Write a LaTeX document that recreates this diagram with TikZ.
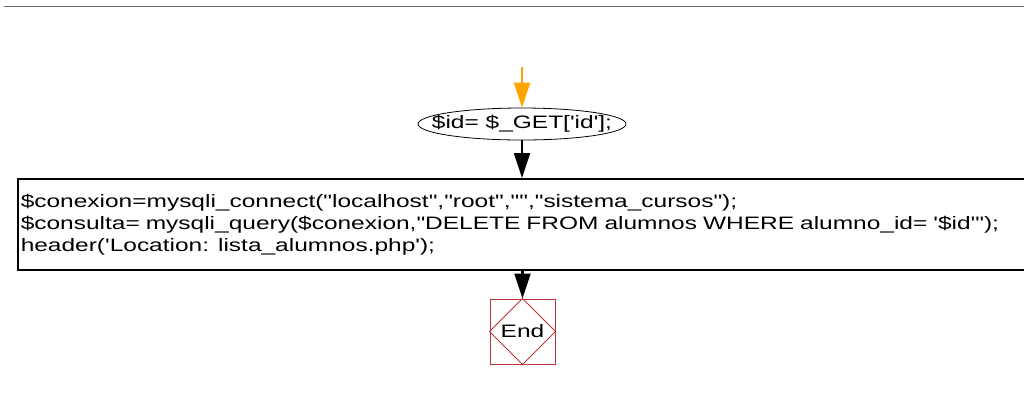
\documentclass[tikz,border=0pt]{standalone}
\usepackage{fontspec}
\usetikzlibrary{shapes.geometric,arrows.meta}
\newfontfamily\dfont{Liberation Sans}[FakeStretch=1.36]
\definecolor{arrorange}{RGB}{255,165,0}
\definecolor{endred}{RGB}{185,55,55}
\definecolor{rulegray}{RGB}{110,110,110}
\begin{document}
\begin{tikzpicture}[x=1pt,y=-1pt,
  every node/.style={font=\dfont\fontsize{18}{22}\selectfont},
  flowarrow/.style={line width=2.2pt,-{Triangle[width=16pt,length=25pt]}},
  procbox/.style={draw,line width=1.5pt,rectangle,anchor=north west,minimum width=1030pt,minimum height=91pt,text width=1024pt,align=left,inner xsep=3pt,inner ysep=0pt},
  startell/.style={draw,line width=0.8pt,ellipse,minimum width=208pt,minimum height=32pt,inner sep=0pt},
  endbox/.style={draw=endred,line width=1pt,rectangle,minimum width=65pt,minimum height=65pt,inner sep=0pt}]
\useasboundingbox (0,0) rectangle (1024,392);
\draw[rulegray,line width=1.6pt] (4,6.5) -- (1024,6.5);
\coordinate (start) at (522,67);
\node[startell] (id) at (522,124) {\makebox[0pt]{\$id= \$\_GET['id'];}};
\node[procbox] (box) at (17,178) {\$conexion=mysqli\_connect("localhost","root","","sistema\_cursos");\\
\$consulta= mysqli\_query(\$conexion,"DELETE FROM alumnos WHERE alumno\_id= '\$id'");\\
header('Location: lista\_alumnos.php');};
\node[endbox] (end) at (522.5,331.5) {End};
\draw[endred,line width=1pt] (end.north) -- (end.east) -- (end.south) -- (end.west) -- cycle;
\draw[flowarrow,arrorange] (start) -- (id.north);
\draw[flowarrow] (id.south) -- (id.south |- box.north);
\draw[flowarrow] (box.south -| end.north) -- (end.north);
\end{tikzpicture}
\end{document}
